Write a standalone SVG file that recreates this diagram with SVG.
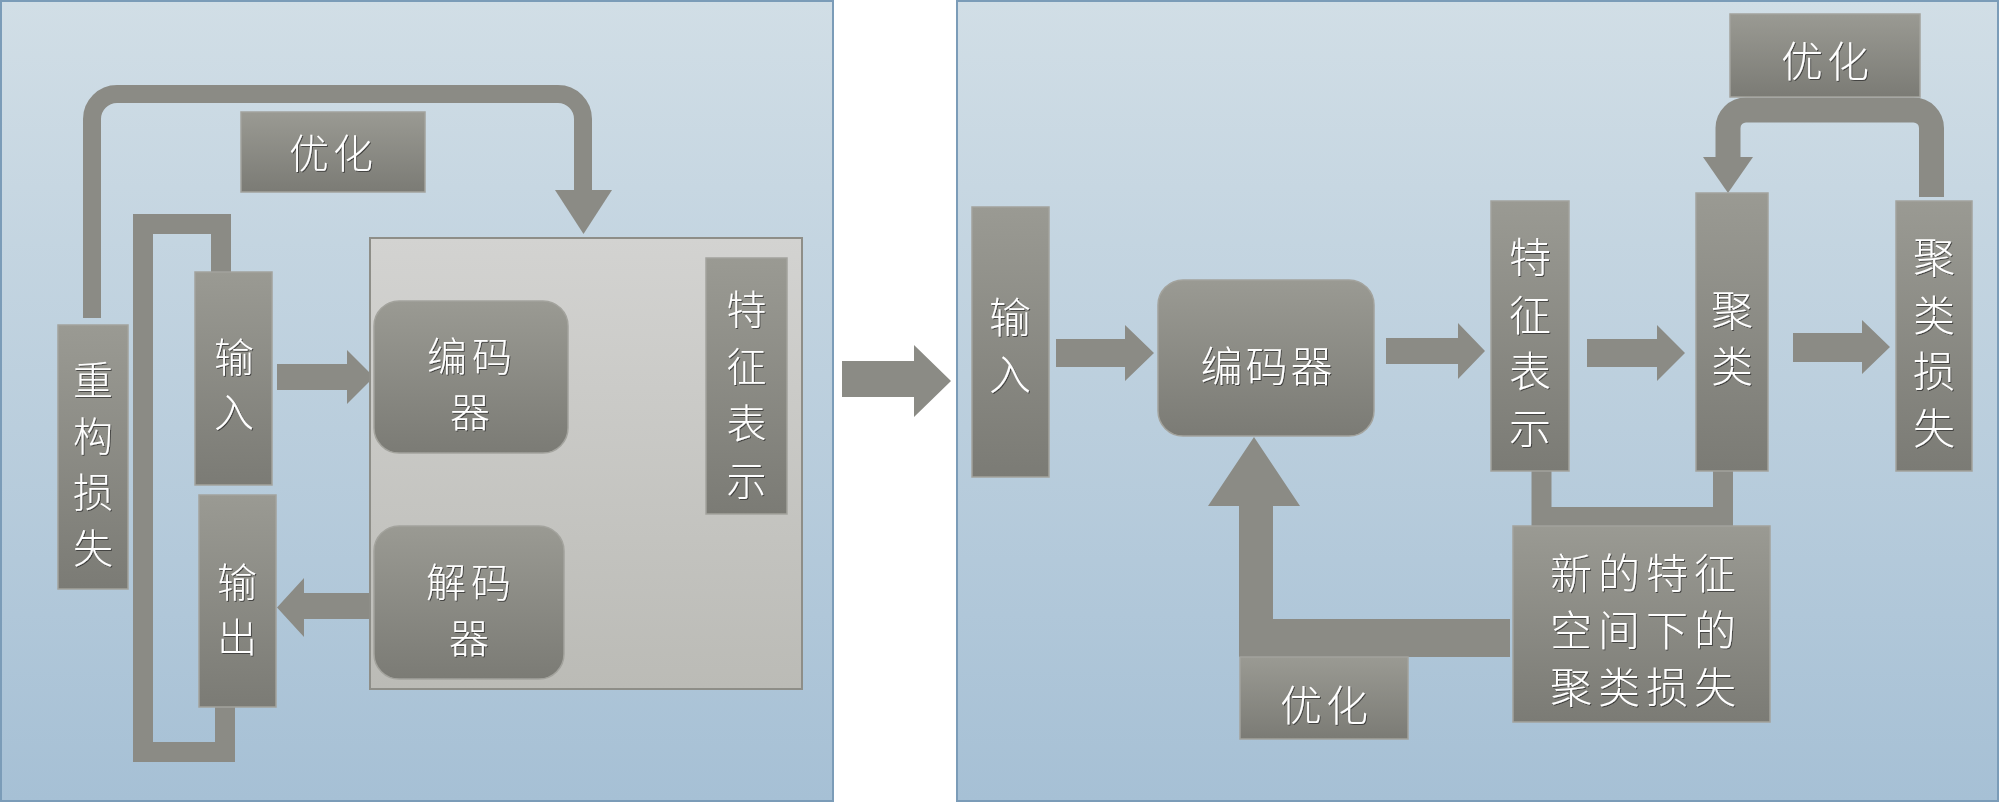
<svg xmlns="http://www.w3.org/2000/svg" width="2000" height="802" viewBox="0 0 2000 802">
<defs>
<linearGradient id="bg" x1="0" y1="0" x2="0" y2="1">
<stop offset="0" stop-color="#d1dee6"/>
<stop offset="1" stop-color="#a6c0d5"/>
</linearGradient>
<linearGradient id="box" x1="0" y1="0" x2="0" y2="1">
<stop offset="0" stop-color="#9a9a93"/>
<stop offset="1" stop-color="#7b7b75"/>
</linearGradient>
<linearGradient id="cont" x1="0" y1="0" x2="0" y2="1">
<stop offset="0" stop-color="#d3d3d1"/>
<stop offset="1" stop-color="#bbbbb6"/>
</linearGradient>
<filter id="ts" x="-20%" y="-20%" width="140%" height="140%">
<feDropShadow dx="1" dy="1" stdDeviation="0.6" flood-color="#2a2a2a" flood-opacity="0.7"/>
</filter>
</defs>
<style>
.panel{fill:url(#bg);stroke:#7b9cb8;stroke-width:2}
.box{fill:url(#box);stroke:#a3a39d;stroke-width:1.5}
.cont{fill:url(#cont);stroke:#8e8e88;stroke-width:2}
.arrow{fill:#8b8b85}
.line{fill:none;stroke:#8b8b85}
.t{font-family:"Noto Sans CJK SC","Noto Sans CJK TC",sans-serif;font-weight:300;fill:#ffffff;text-anchor:middle;dominant-baseline:central;filter:url(#ts)}
.l{font-size:40px}
.r{font-size:42px}
</style>
<rect width="2000" height="802" fill="#ffffff"/>
<rect class="panel" x="1" y="1" width="832" height="800"/>
<rect class="panel" x="957" y="1" width="1041" height="800"/>

<g id="connectors">
<path class="line" stroke-width="18" d="M92 318 V119 A25 25 0 0 1 117 94 H558 A25 25 0 0 1 583 119 V192"/>
<polygon class="arrow" points="555,190 612,190 583.5,234"/>
<polyline class="line" stroke-width="20" stroke-linejoin="miter" points="221,272 221,224 143,224 143,752 225,752 225,707"/>
<polygon class="arrow" points="277,364 347,364 347,350 374,377 347,404 347,390 277,390"/>
<polygon class="arrow" points="592,358 646,358 646,345 689,373 646,401 646,386 592,386"/>
<path class="line" stroke-width="30" d="M748 515 V578 A30 30 0 0 1 718 608 H603"/>
<polygon class="arrow" points="605,578 605,638 576,608"/>
<polygon class="arrow" points="371,593 304,593 304,578 277,607.5 304,637 304,619 371,619"/>
<polygon class="arrow" points="842,361 914,361 914,345 951,381 914,417 914,397 842,397"/>
<polygon class="arrow" points="1056,339 1125,339 1125,325 1154,353 1125,381 1125,367 1056,367"/>
<polygon class="arrow" points="1386,338 1458,338 1458,323 1485,351 1458,379 1458,364 1386,364"/>
<polygon class="arrow" points="1587,339 1657,339 1657,325 1685,353 1657,381 1657,367 1587,367"/>
<polygon class="arrow" points="1793,333 1862,333 1862,320 1890,347 1862,374 1862,362 1793,362"/>
<path class="line" stroke-width="25" d="M1931.5 197 V128 A18 18 0 0 0 1913.5 110 H1746 A18 18 0 0 0 1728 128 V158"/>
<polygon class="arrow" points="1703,157 1753,157 1728,193"/>
<path class="line" stroke-width="20" stroke-linejoin="miter" d="M1541.5 470 V517 H1723 V470"/>
<polygon class="arrow" points="1510,619 1273,619 1273,506 1300,506 1254,437 1208,506 1239,506 1239,657 1510,657"/>
</g>

<g id="container-autoencoder">
<rect class="cont" x="370" y="238" width="432" height="451"/>
</g>

<g id="node-opt-left">
<rect class="box" x="241" y="112" width="184" height="80"/>
<text class="t l" x="333" y="151" letter-spacing="4">优化</text>
</g>
<g id="node-recon-loss">
<rect class="box" x="58" y="325" width="70" height="264"/>
<text class="t l"><tspan x="93" y="378">重</tspan><tspan x="93" y="434">构</tspan><tspan x="93" y="490">损</tspan><tspan x="93" y="546">失</tspan></text>
</g>
<g id="node-input-left">
<rect class="box" x="195" y="272" width="77" height="213"/>
<text class="t l" x="234" y="355">输</text>
<text class="t l" x="234" y="410">入</text>
</g>
<g id="node-output-left">
<rect class="box" x="199" y="495" width="77" height="212"/>
<text class="t l" x="237" y="580">输</text>
<text class="t l" x="237" y="635">出</text>
</g>
<g id="node-encoder-left">
<rect class="box" x="374" y="301" width="194" height="152" rx="25"/>
<text class="t l"><tspan x="472" y="354" letter-spacing="5">编码</tspan><tspan x="470" y="410">器</tspan></text>
</g>
<g id="node-decoder-left">
<rect class="box" x="374" y="526" width="190" height="153" rx="25"/>
<text class="t l"><tspan x="471" y="580" letter-spacing="5">解码</tspan><tspan x="469" y="636">器</tspan></text>
</g>
<g id="node-feature-left">
<rect class="box" x="706" y="258" width="81" height="256"/>
<text class="t l"><tspan x="746.5" y="307">特</tspan><tspan x="746.5" y="364">征</tspan><tspan x="746.5" y="421">表</tspan><tspan x="746.5" y="478">示</tspan></text>
</g>

<g id="node-input-right">
<rect class="box" x="972" y="207" width="77" height="270"/>
<text class="t r" x="1010" y="314">输</text>
<text class="t r" x="1010" y="371">入</text>
</g>
<g id="node-encoder-right">
<rect class="box" x="1158" y="280" width="216" height="156" rx="25"/>
<text class="t r" x="1268" y="363" letter-spacing="3">编码器</text>
</g>
<g id="node-feature-right">
<rect class="box" x="1491" y="201" width="78" height="270"/>
<text class="t r"><tspan x="1530" y="254">特</tspan><tspan x="1530" y="312">征</tspan><tspan x="1530" y="368">表</tspan><tspan x="1530" y="425">示</tspan></text>
</g>
<g id="node-cluster">
<rect class="box" x="1696" y="193" width="72" height="278"/>
<text class="t r"><tspan x="1732" y="307">聚</tspan><tspan x="1732" y="363">类</tspan></text>
</g>
<g id="node-cluster-loss">
<rect class="box" x="1896" y="201" width="76" height="270"/>
<text class="t r"><tspan x="1934" y="254">聚</tspan><tspan x="1934" y="312">类</tspan><tspan x="1934" y="368">损</tspan><tspan x="1934" y="425">失</tspan></text>
</g>
<g id="node-opt-top">
<rect class="box" x="1730" y="14" width="190" height="83"/>
<text class="t r" x="1827" y="58" letter-spacing="4">优化</text>
</g>
<g id="node-new-loss">
<rect class="box" x="1513" y="526" width="257" height="196"/>
<text class="t r" letter-spacing="6"><tspan x="1646" y="570">新的特征</tspan><tspan x="1646" y="627">空间下的</tspan><tspan x="1646" y="684">聚类损失</tspan></text>
</g>
<g id="node-opt-bottom">
<rect class="box" x="1240" y="657" width="168" height="82"/>
<text class="t r" x="1326" y="702" letter-spacing="4">优化</text>
</g>
</svg>
